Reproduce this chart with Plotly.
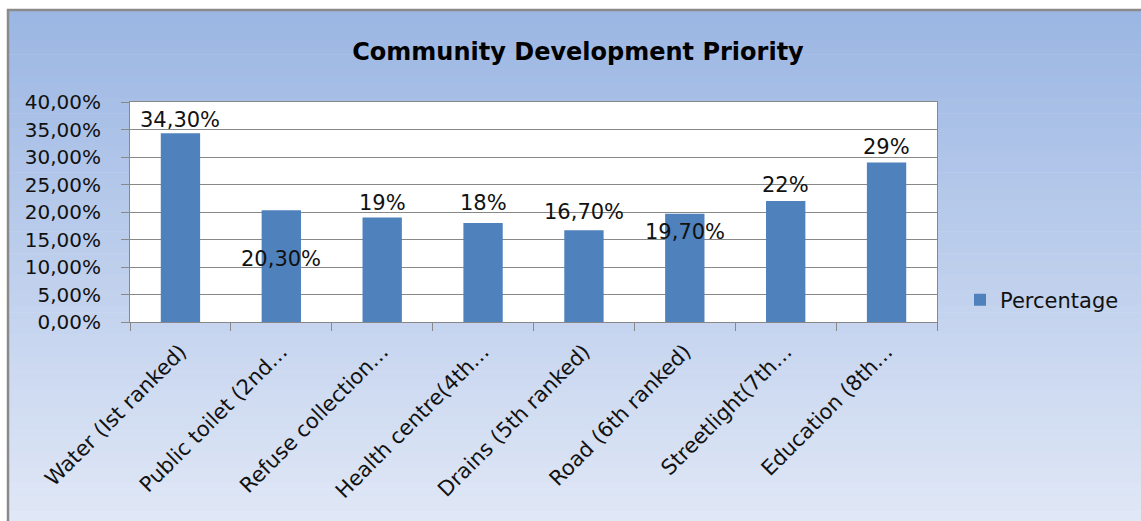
import plotly.graph_objects as go

# Survey results: share of respondents per community development priority
categories = [
    "Water (Ist ranked)",
    "Public toilet (2nd…",
    "Refuse collection…",
    "Health centre(4th…",
    "Drains (5th ranked)",
    "Road (6th ranked)",
    "Streetlight(7th…",
    "Education (8th…",
]
percentages = [34.3, 20.3, 19.0, 18.0, 16.7, 19.7, 22.0, 29.0]
value_labels = ["34,30%", "20,30%", "19%", "18%", "16,70%", "19,70%", "22%", "29%"]
y_tick_values = [0, 5, 10, 15, 20, 25, 30, 35, 40]
y_tick_labels = ["0,00%", "5,00%", "10,00%", "15,00%", "20,00%",
                 "25,00%", "30,00%", "35,00%", "40,00%"]

# Vertical label offsets (px) relative to each bar top
label_shift = [13, -49, 15, 20, 18, -18, 16, 16]

W, H = 1141, 521
ML, MR, MT, MB = 130, 204, 102, 199
PW, PH = W - ML - MR, H - MT - MB
FONT = "DejaVu Sans"
BAR_COLOR = "#4F81BD"
GRID = "#888888"


def px_x(px):
    return (px - ML) / PW


def px_y(py):
    return (H - MB - py) / PH


fig = go.Figure()
fig.add_trace(go.Bar(
    x=categories, y=percentages, name="Percentage",
    marker=dict(color=BAR_COLOR, line=dict(width=0)),
    width=0.39, hoverinfo="x+y",
))

shapes = []
# Chart-area gradient background (blue at top fading to pale blue)
top_rgb, bot_rgb = (155, 182, 227), (225, 232, 246)
y0_px, y1_px = 10, H + 5
n = 70
for i in range(n):
    t = (i + 0.5) / n
    c = tuple(round(a + (b - a) * t) for a, b in zip(top_rgb, bot_rgb))
    ya = y0_px + (y1_px - y0_px) * i / n
    yb = y0_px + (y1_px - y0_px) * (i + 1) / n + 0.6
    shapes.append(dict(
        type="rect", xref="paper", yref="paper", layer="below",
        x0=px_x(8), x1=px_x(W + 5), y0=px_y(ya), y1=px_y(yb),
        fillcolor="rgb(%d,%d,%d)" % c, line=dict(width=0),
    ))
# Chart frame
shapes.append(dict(
    type="rect", xref="paper", yref="paper", layer="below",
    x0=px_x(8), x1=px_x(W + 5), y0=px_y(10), y1=px_y(H + 5),
    fillcolor="rgba(0,0,0,0)", line=dict(color="#8A8A8A", width=2.5),
))
# White plot area
shapes.append(dict(
    type="rect", xref="paper", yref="paper", layer="below",
    x0=0, x1=1, y0=0, y1=1, fillcolor="white", line=dict(width=0),
))

annotations = []
for cat, v, lab, dy in zip(categories, percentages, value_labels, label_shift):
    annotations.append(dict(
        x=cat, y=v, xref="x", yref="y", text=lab, showarrow=False,
        yshift=dy, font=dict(family=FONT, size=21, color="#111111"),
        xanchor="center", yanchor="middle",
    ))

fig.update_layout(
    width=W, height=H,
    margin=dict(l=ML, r=MR, t=MT, b=MB, autoexpand=False),
    paper_bgcolor="white",
    plot_bgcolor="rgba(0,0,0,0)",
    font=dict(family=FONT, color="#111111"),
    title=dict(
        text="<b>Community Development Priority</b>",
        x=578 / W, xanchor="center", xref="container",
        y=1 - 52 / H, yanchor="middle", yref="container",
        font=dict(family=FONT, size=24, color="#000000"),
    ),
    bargap=0.61,
    shapes=shapes,
    annotations=annotations,
    showlegend=True,
    legend=dict(
        x=px_x(960), y=px_y(300), xanchor="left", yanchor="middle",
        bgcolor="rgba(0,0,0,0)", font=dict(family=FONT, size=21, color="#111111"),
        itemsizing="constant",
    ),
)

fig.update_xaxes(
    type="category", tickangle=-45, tickson="boundaries",
    ticks="outside", ticklen=8, tickcolor=GRID, tickwidth=1,
    showline=True, linecolor=GRID, linewidth=1, mirror=True,
    showgrid=False, ticklabelstandoff=8,
    tickfont=dict(family=FONT, size=21, color="#111111"),
)
fig.update_yaxes(
    range=[0, 40], tickvals=y_tick_values, ticktext=y_tick_labels,
    ticks="outside", ticklen=8, tickcolor=GRID, tickwidth=1,
    showline=True, linecolor=GRID, linewidth=1, mirror=True,
    showgrid=True, gridcolor=GRID, gridwidth=1, zeroline=False,
    ticklabelstandoff=16,
    tickfont=dict(family=FONT, size=20, color="#111111"),
)

fig.write_html("out.html")
